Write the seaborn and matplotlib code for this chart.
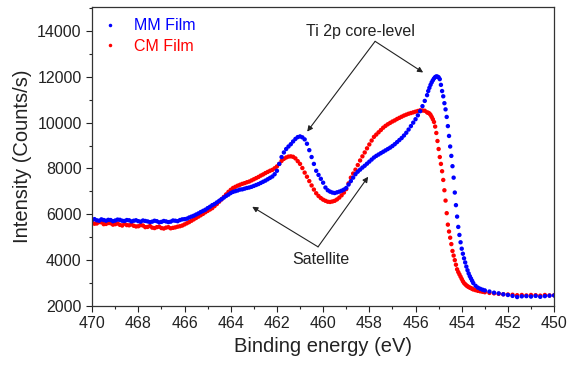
import matplotlib
matplotlib.use("Agg")
import matplotlib.pyplot as plt
from matplotlib.ticker import MultipleLocator
import pandas as pd
import seaborn as sns

# binding energy grid (eV), shared by both spectra
energy = [
    470.0, 469.9, 469.8, 469.7, 469.6, 469.5, 469.4, 469.3, 469.2, 469.1,
    469.0, 468.9, 468.8, 468.7, 468.6, 468.5, 468.4, 468.3, 468.2, 468.1,
    468.0, 467.9, 467.8, 467.7, 467.6, 467.5, 467.4, 467.3, 467.2, 467.1,
    467.0, 466.9, 466.8, 466.7, 466.6, 466.5, 466.4, 466.3, 466.2, 466.1,
    466.0, 465.9, 465.8, 465.7, 465.6, 465.5, 465.4, 465.3, 465.2, 465.1,
    465.0, 464.9, 464.8, 464.7, 464.6, 464.5, 464.4, 464.3, 464.2, 464.1,
    464.0, 463.9, 463.8, 463.7, 463.6, 463.5, 463.4, 463.3, 463.2, 463.1,
    463.0, 462.9, 462.8, 462.7, 462.6, 462.5, 462.4, 462.3, 462.2,
    462.1, 462.0, 461.9, 461.8, 461.7, 461.6, 461.5, 461.4, 461.3, 461.2,
    461.1, 461.0, 460.9, 460.8, 460.7, 460.6, 460.5, 460.4, 460.3, 460.2,
    460.1, 460.0, 459.9, 459.8, 459.7, 459.6, 459.5, 459.4, 459.3, 459.2,
    459.1, 459.0,
    458.9, 458.8, 458.7, 458.6, 458.5, 458.4, 458.3, 458.2, 458.1, 458.0,
    457.9, 457.8, 457.7, 457.6, 457.5, 457.4, 457.3, 457.2, 457.1, 457.0,
    456.9, 456.8, 456.7, 456.6, 456.5, 456.4, 456.3, 456.2, 456.1, 456.0,
    455.9, 455.8, 455.7, 455.6,
    455.5, 455.45, 455.4, 455.35, 455.3, 455.25, 455.2, 455.15, 455.1, 455.05,
    455.0, 454.95, 454.9, 454.85, 454.8, 454.75, 454.7, 454.65, 454.6, 454.55,
    454.5, 454.45, 454.4, 454.35, 454.3, 454.25, 454.2, 454.15, 454.1, 454.05,
    454.0, 453.95, 453.9, 453.85, 453.8, 453.75, 453.7, 453.65, 453.6, 453.55,
    453.5,
    453.4, 453.3, 453.2, 453.1, 453.0,
    452.8, 452.6, 452.4, 452.2, 452.0, 451.8, 451.6, 451.4, 451.2, 451.0,
    450.8, 450.6, 450.4, 450.2, 450.0,
]

mm_film = [
    5760, 5790, 5740, 5720, 5780, 5750, 5720, 5760, 5750, 5700,
    5730, 5770, 5760, 5720, 5710, 5750, 5740, 5690, 5720, 5740,
    5700, 5680, 5730, 5710, 5690, 5660, 5680, 5720, 5700, 5650,
    5670, 5710, 5690, 5660, 5680, 5730, 5720, 5700, 5750, 5780,
    5790, 5810, 5860, 5900, 5940, 5990, 6040, 6100, 6150, 6200,
    6270, 6330, 6400, 6450, 6520, 6590, 6660, 6730, 6800, 6860,
    6930, 6980, 7010, 7040, 7080, 7090, 7120, 7150, 7170, 7200,
    7240, 7280, 7320, 7370, 7420, 7470, 7530, 7590, 7650,
    7750, 7900, 8200, 8500, 8700, 8850, 8960, 9060, 9180, 9290,
    9370, 9400, 9360, 9270, 9080, 8800, 8500, 8200, 7900, 7720,
    7550, 7380, 7170, 7050, 6990, 6950, 6930, 6960, 6990, 7030,
    7080, 7150,
    7300, 7450, 7600, 7750, 7860, 7950, 8040, 8120, 8210, 8300,
    8390, 8480, 8550, 8610, 8670, 8730, 8790, 8850, 8910, 8980,
    9060, 9150, 9240, 9330, 9440, 9560, 9700, 9850, 10000, 10150,
    10320, 10500, 10720, 10950,
    11200, 11380, 11520, 11650, 11760, 11850, 11930, 11990, 12020, 12010,
    11980, 11900, 11650, 11380, 11150, 10850, 10580, 10250, 9850, 9420,
    8960, 8550, 8100, 7600, 6950, 6400, 5900, 5450, 5100, 4780,
    4500, 4280, 4080, 3900, 3720, 3560, 3420, 3300, 3200, 3100,
    3000,
    2880, 2800, 2750, 2710, 2680,
    2630, 2580, 2550, 2510, 2480, 2440, 2390, 2420, 2430, 2410,
    2440, 2400, 2430, 2450, 2460,
]

cm_film = [
    5630, 5590, 5600, 5660, 5650, 5570, 5580, 5620, 5610, 5550,
    5570, 5600, 5540, 5510, 5590, 5530, 5520, 5560, 5500, 5470,
    5480, 5530, 5510, 5440, 5450, 5490, 5420, 5400, 5440, 5460,
    5400, 5380, 5420, 5440, 5390, 5410, 5430, 5460, 5480, 5510,
    5560, 5610, 5660, 5720, 5780, 5840, 5900, 5960, 6020, 6090,
    6150, 6210, 6270, 6360, 6450, 6550, 6650, 6760, 6870, 6980,
    7070, 7150, 7200, 7250, 7290, 7330, 7360, 7400, 7430, 7480,
    7530, 7580, 7630, 7690, 7740, 7800, 7850, 7900, 7940,
    8010, 8090, 8200, 8330, 8420, 8480, 8520, 8530, 8510, 8440,
    8320, 8200, 8020, 7820, 7640, 7450, 7260, 7080, 6920, 6800,
    6710, 6640, 6590, 6550, 6540, 6560, 6590, 6650, 6730, 6830,
    6950, 7100,
    7350, 7600, 7780, 7950, 8150, 8350, 8530, 8700, 8880, 9050,
    9220, 9380, 9480, 9580, 9680, 9780, 9860, 9930, 9990, 10050,
    10100, 10160, 10210, 10260, 10310, 10350, 10390, 10420, 10450, 10480,
    10510, 10540, 10530, 10520,
    10450, 10430, 10400, 10340, 10250, 10150, 10030, 9830, 9550, 9200,
    8850, 8500, 8200, 7880, 7500, 7050, 6600, 6050, 5550, 5250,
    4980, 4700, 4400, 4200, 4000, 3800, 3600, 3480, 3380, 3280,
    3180, 3080, 3000, 2950, 2900, 2860, 2830, 2800, 2780, 2750,
    2720,
    2690, 2660, 2640, 2620, 2600,
    2570, 2550, 2530, 2510, 2500, 2490, 2470, 2480, 2460, 2480,
    2470, 2450, 2480, 2460, 2470,
]

series_names = ["MM Film", "CM Film"]
colors = {"MM Film": "#0000ff", "CM Film": "#ff0000"}

# red first so the blue dots sit on top, like the original
df = pd.concat([
    pd.DataFrame({"energy": energy, "intensity": cm_film, "sample": "CM Film"}),
    pd.DataFrame({"energy": energy, "intensity": mm_film, "sample": "MM Film"}),
], ignore_index=True)

sns.set_style("ticks")
plt.rcParams["font.family"] = ["Liberation Sans", "DejaVu Sans"]

fig = plt.figure(figsize=(5.76, 3.66), dpi=100)
ax = fig.add_axes([0.160, 0.164, 0.802, 0.817])

sns.scatterplot(data=df, x="energy", y="intensity", hue="sample",
                hue_order=series_names, palette=colors, s=10, linewidth=0,
                marker="o", ax=ax)

ax.set_xlim(470, 450)
ax.set_ylim(2000, 15050)
ax.xaxis.set_major_locator(MultipleLocator(2))
ax.xaxis.set_minor_locator(MultipleLocator(1))
ax.yaxis.set_major_locator(MultipleLocator(2000))
ax.yaxis.set_minor_locator(MultipleLocator(1000))
ax.tick_params(which="major", direction="out", length=4, width=0.8,
               labelsize=11.5, colors="#222222", top=False, right=False)
ax.tick_params(which="minor", direction="out", length=2.5, width=0.8,
               top=False, right=False)
for sp in ax.spines.values():
    sp.set_color("#333333")
    sp.set_linewidth(0.9)

ax.set_xlabel("Binding energy (eV)", fontsize=14.5, color="#222222")
ax.set_ylabel("Intensity (Counts/s)", fontsize=14.5, color="#222222")

handles, labels = ax.get_legend_handles_labels()
ax.legend(handles, labels, loc="upper left", frameon=False, fontsize=11.5,
          handlelength=0.8, handletextpad=1.1, markerscale=0.8,
          borderaxespad=0.3, labelspacing=0.35,
          labelcolor=[colors[n] for n in labels])

arrow = dict(arrowstyle="-|>", color="#222222", lw=0.8,
             mutation_scale=8, shrinkA=0, shrinkB=0)

ax.text(458.4, 14000, "Ti 2p core-level", ha="center", va="center",
        fontsize=11.5, color="#222222")
ax.annotate("", xy=(460.69, 9610), xytext=(457.75, 13550), arrowprops=arrow)
ax.annotate("", xy=(455.67, 12190), xytext=(457.75, 13550), arrowprops=arrow)

ax.text(460.09, 4010, "Satellite", ha="center", va="center",
        fontsize=11.5, color="#222222")
ax.annotate("", xy=(463.07, 6330), xytext=(460.22, 4580), arrowprops=arrow)
ax.annotate("", xy=(458.05, 7640), xytext=(460.22, 4580), arrowprops=arrow)

fig.savefig("out.png", dpi=100)
